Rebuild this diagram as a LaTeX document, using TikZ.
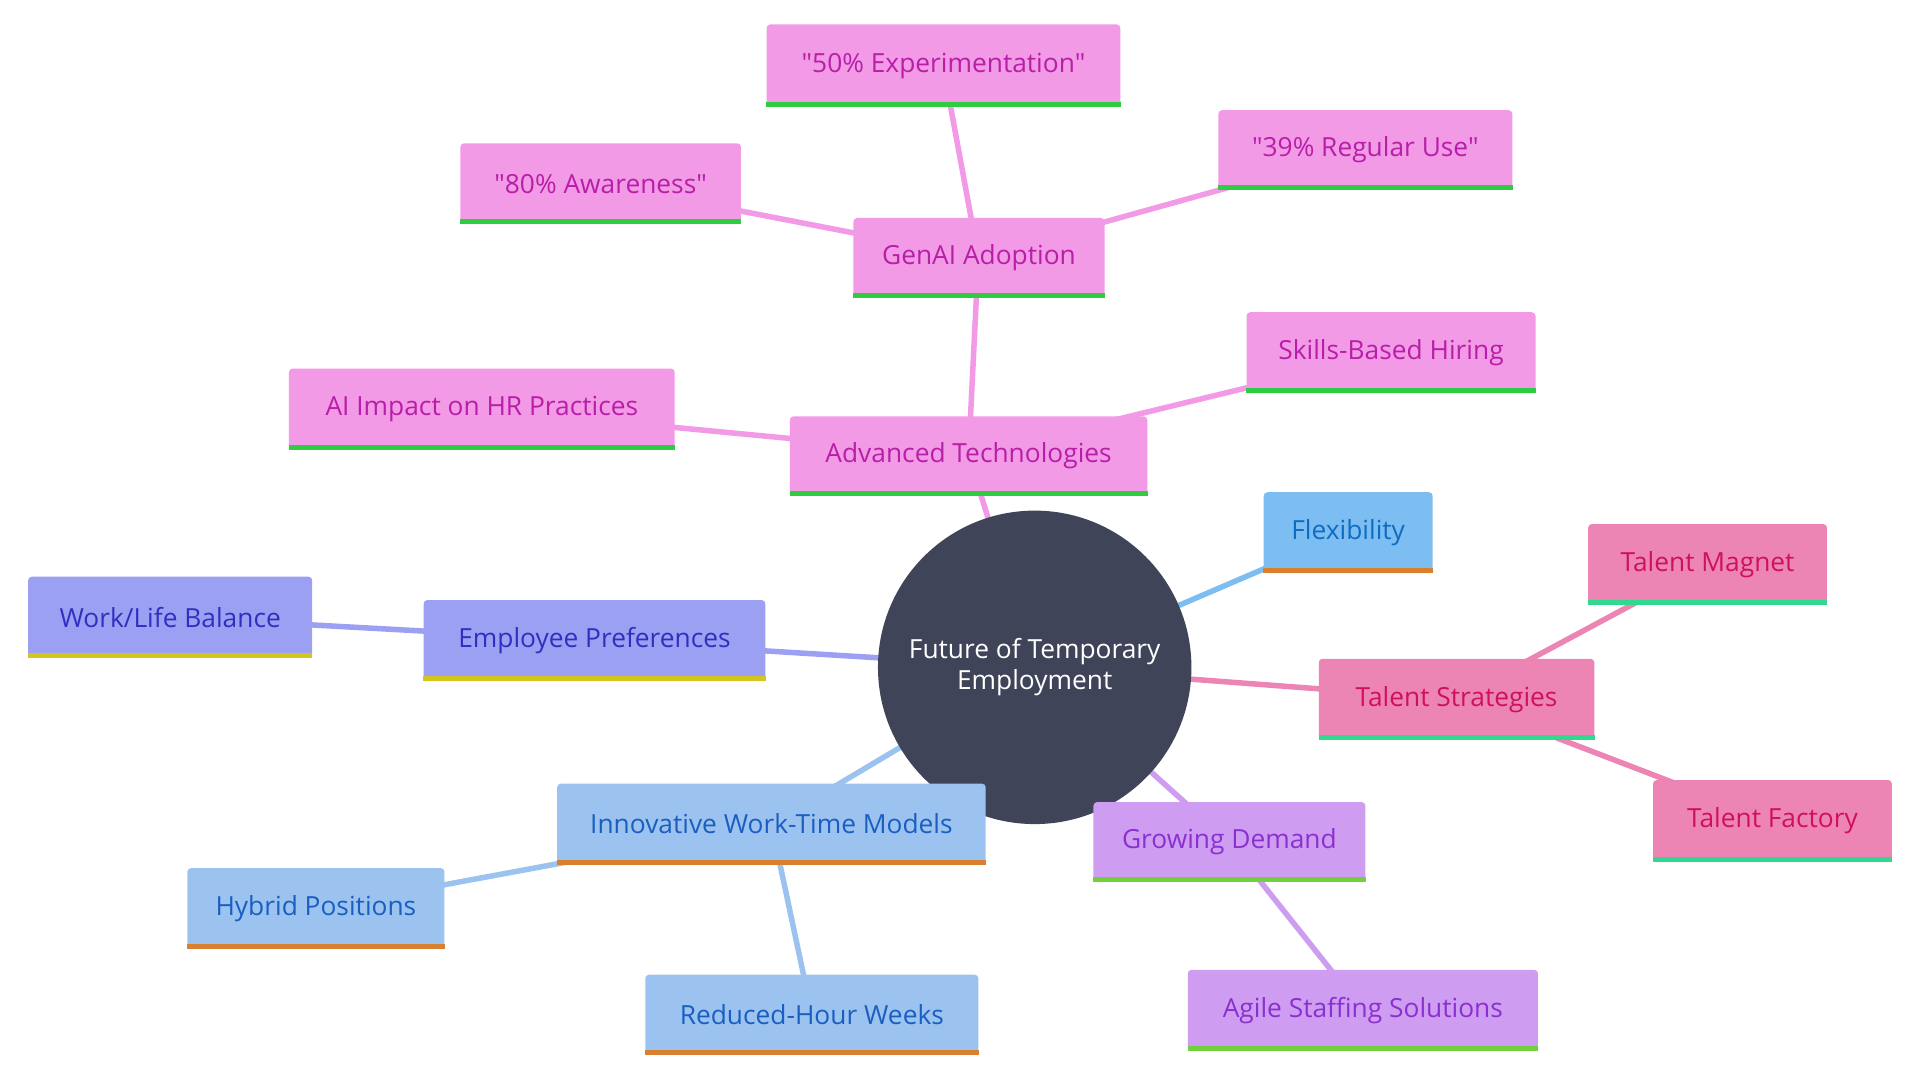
\documentclass[tikz,border=0pt]{standalone}
\usepackage{fontspec}
\setmainfont{Open Sans}[Ligatures=TeXOff]
\begin{document}
\begin{tikzpicture}[x=1pt,y=-1pt,
  box/.style={rectangle,rounded corners=3pt,inner sep=0pt,font=\fontsize{21.5}{25}\selectfont},
  edge/.style={line width=4.5pt}]
\definecolor{cPk}{HTML}{F29AE6}\definecolor{tPk}{HTML}{B81EA8}\definecolor{gG}{HTML}{2ECC40}
\definecolor{cFx}{HTML}{7DBEF2}\definecolor{tFx}{HTML}{0F6CC0}\definecolor{oO}{HTML}{D98030}
\definecolor{cEp}{HTML}{9BA0F2}\definecolor{tEp}{HTML}{3030C0}\definecolor{yY}{HTML}{D4C41E}
\definecolor{cIw}{HTML}{9CC3F0}\definecolor{tIw}{HTML}{1A5EC0}
\definecolor{cGd}{HTML}{CE9DF2}\definecolor{tGd}{HTML}{8A30D0}\definecolor{lG}{HTML}{72D040}
\definecolor{cTs}{HTML}{EC85B4}\definecolor{tTs}{HTML}{CF1060}\definecolor{tT}{HTML}{30D890}
\definecolor{cC}{HTML}{3F4459}
\useasboundingbox (0,0) rectangle (1568,882);
\newcommand{\nd}[9]{%
  \node[box,fill=#6,text=#8,minimum width={#4-#2},minimum height={#5-#3}] (#1) at ({(#2+#4)/2},{(#3+#5)/2}) {#9};
  \draw[#7,line width=4pt] ([yshift=2pt]#1.south west) -- ([yshift=2pt]#1.south east);}
\coordinate (C) at (845,545);
\coordinate (at) at (791,372); \coordinate (ga) at (799,210);
\coordinate (e50) at (770,53); \coordinate (e80) at (490,150); \coordinate (e39) at (1115,122);
\coordinate (sb) at (1136,288); \coordinate (ai) at (393,334);
\coordinate (fx) at (1101,435); \coordinate (ep) at (485,523); \coordinate (wl) at (139,504);
\coordinate (iw) at (630,673); \coordinate (hp) at (258,742); \coordinate (rh) at (663,828);
\coordinate (gd) at (1004,688); \coordinate (as) at (1113,825);
\coordinate (ts) at (1189,571); \coordinate (tm) at (1394,461); \coordinate (tf) at (1447,670);
\draw[edge,cPk] (C)--(at) (at)--(ga) (ga)--(e50) (ga)--(e80) (ga)--(e39) (at)--(sb) (at)--(ai);
\draw[edge,cFx] (C)--(fx);
\draw[edge,cEp] (C)--(ep) (ep)--(wl);
\draw[edge,cIw] (C)--(iw) (iw)--(hp) (iw)--(rh);
\draw[edge,cGd] (C)--(gd) (gd)--(as);
\draw[edge,cTs] (C)--(ts) (ts)--(tm) (ts)--(tf);
\node[circle,fill=cC,text=white,minimum size=256pt,align=center,font=\fontsize{21.5}{25}\selectfont] (center) at (C) {Future of Temporary\\Employment};
\nd{nAT}{645}{340}{937}{405}{cPk}{gG}{tPk}{Advanced Technologies}
\nd{nGA}{697}{178}{902}{243}{cPk}{gG}{tPk}{GenAI Adoption}
\nd{n50}{626}{20}{915}{87}{cPk}{gG}{tPk}{"50\% Experimentation"}
\nd{n80}{376}{117}{605}{183}{cPk}{gG}{tPk}{"80\% Awareness"}
\nd{n39}{995}{90}{1235}{155}{cPk}{gG}{tPk}{"39\% Regular Use"}
\nd{nSB}{1018}{255}{1254}{321}{cPk}{gG}{tPk}{Skills-Based Hiring}
\nd{nAI}{236}{301}{551}{367}{cPk}{gG}{tPk}{AI Impact on HR Practices}
\nd{nFX}{1032}{402}{1170}{468}{cFx}{oO}{tFx}{Flexibility}
\nd{nEP}{346}{490}{625}{556}{cEp}{yY}{tEp}{Employee Preferences}
\nd{nWL}{23}{471}{255}{537}{cEp}{yY}{tEp}{Work/Life Balance}
\nd{nIW}{455}{640}{805}{706}{cIw}{oO}{tIw}{Innovative Work-Time Models}
\nd{nHP}{153}{709}{363}{775}{cIw}{oO}{tIw}{Hybrid Positions}
\nd{nRH}{527}{796}{799}{861}{cIw}{oO}{tIw}{Reduced-Hour Weeks}
\nd{nGD}{893}{655}{1115}{720}{cGd}{lG}{tGd}{Growing Demand}
\nd{nAS}{970}{792}{1256}{858}{cGd}{lG}{tGd}{Agile Staffing Solutions}
\nd{nTS}{1077}{538}{1302}{604}{cTs}{tT}{tTs}{Talent Strategies}
\nd{nTM}{1297}{428}{1492}{494}{cTs}{tT}{tTs}{Talent Magnet}
\nd{nTF}{1350}{637}{1545}{704}{cTs}{tT}{tTs}{Talent Factory}
\end{tikzpicture}
\end{document}
